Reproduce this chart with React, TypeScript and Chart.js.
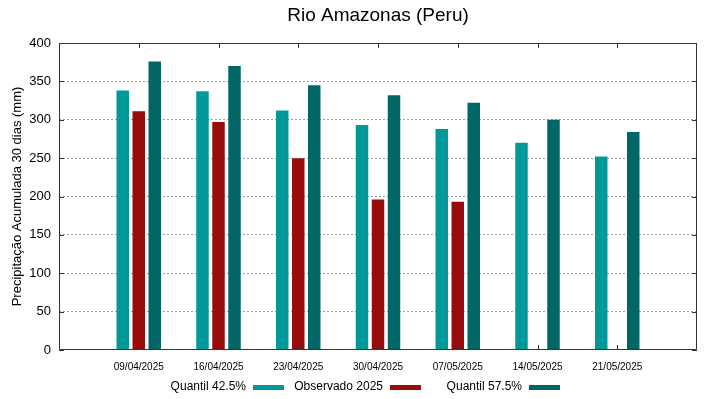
import { useEffect, useRef } from 'react';
import { Chart, registerables } from 'chart.js';

Chart.register(...registerables);

const chartTitle = 'Rio Amazonas (Peru)';
const yAxisTitle = 'Precipitação Acumulada 30 dias (mm)';
const dates = ['09/04/2025', '16/04/2025', '23/04/2025', '30/04/2025', '07/05/2025', '14/05/2025', '21/05/2025'];
const quantil425 = [338, 337, 312, 293, 288, 270, 252];
const observado2025: (number | null)[] = [311, 297, 250, 196, 193, null, null];
const quantil575 = [376, 370, 345, 332, 322, 300, 284];
const seriesNames = ['Quantil 42.5%', 'Observado 2025', 'Quantil 57.5%'];
const seriesColors = ['#009999', '#990c0c', '#006666'];
const yMin = 0;
const yMax = 400;
const yStep = 50;

const FONT = '"Liberation Sans", Arial, sans-serif';

const framePlugin = {
  id: 'gnuFrame',
  afterDraw(chart: any) {
    const { ctx, chartArea } = chart;
    const { left, right, top, bottom } = chartArea;
    const xs = chart.scales.x;
    const ys = chart.scales.y;
    ctx.save();
    ctx.strokeStyle = '#333333';
    ctx.lineWidth = 1;
    ctx.setLineDash([]);
    ctx.beginPath();
    ctx.rect(left + 0.5, top + 0.5, right - left - 1, bottom - top - 1);
    ctx.stroke();
    // y ticks inside, both sides
    ctx.beginPath();
    for (let v = yMin; v <= yMax; v += yStep) {
      const py = Math.round(ys.getPixelForValue(v)) + 0.5;
      ctx.moveTo(left, py);
      ctx.lineTo(left + 5, py);
      ctx.moveTo(right, py);
      ctx.lineTo(right - 5, py);
    }
    // x ticks inside, top and bottom
    for (let i = 1; i <= dates.length; i++) {
      const px = Math.round(xs.getPixelForValue(i)) + 0.5;
      ctx.moveTo(px, bottom);
      ctx.lineTo(px, bottom - 5);
      ctx.moveTo(px, top);
      ctx.lineTo(px, top + 5);
    }
    ctx.stroke();

    // title
    ctx.fillStyle = '#000';
    ctx.font = `19px ${FONT}`;
    ctx.textAlign = 'center';
    ctx.textBaseline = 'middle';
    ctx.fillText(chartTitle, (left + right) / 2, 16);

    // legend (gnuplot style: text then sample)
    const textEnds = [246, 383, 522];
    ctx.font = `12px ${FONT}`;
    ctx.textAlign = 'right';
    for (let i = 0; i < seriesNames.length; i++) {
      ctx.fillStyle = '#000';
      ctx.fillText(seriesNames[i], textEnds[i], 387);
      ctx.fillStyle = seriesColors[i];
      ctx.fillRect(textEnds[i] + 7, 385, 31, 5);
    }
    ctx.restore();
  },
};

export default function App() {
  const ref = useRef<HTMLCanvasElement | null>(null);
  useEffect(() => {
    document.body.style.margin = '0';
    if (!ref.current) return;
    const labels = ['', ...dates, ''];
    const pad = (arr: (number | null)[]) => [null, ...arr, null];
    const chart = new Chart(ref.current, {
      type: 'bar',
      data: {
        labels,
        datasets: [
          { label: seriesNames[0], data: pad(quantil425), backgroundColor: seriesColors[0] },
          { label: seriesNames[1], data: pad(observado2025), backgroundColor: seriesColors[1] },
          { label: seriesNames[2], data: pad(quantil575), backgroundColor: seriesColors[2] },
        ],
      },
      options: {
        responsive: false,
        animation: false,
        maintainAspectRatio: false,
        layout: { padding: { top: 43, right: 22, left: 0, bottom: 0 } },
        datasets: { bar: { categoryPercentage: 0.602, barPercentage: 0.78 } },
        plugins: {
          legend: { display: false },
          title: { display: false },
          tooltip: { enabled: false },
        },
        scales: {
          x: {
            type: 'category',
            offset: false,
            grid: { display: false, drawTicks: false },
            border: { display: false },
            ticks: {
              autoSkip: false,
              maxRotation: 0,
              padding: 11,
              color: '#000',
              font: { family: FONT, size: 10 },
            },
            afterFit: (s: any) => { s.height = 49; },
          },
          y: {
            min: yMin,
            max: yMax,
            ticks: {
              stepSize: yStep,
              padding: 8,
              color: '#000',
              font: { family: FONT, size: 13 },
            },
            grid: {
              drawTicks: false,
              color: (c: any) => (c.tick && (c.tick.value === yMin || c.tick.value === yMax) ? 'rgba(0,0,0,0)' : '#a0a0a0'),
            },
            border: { display: false, dash: [2, 2] },
            title: {
              display: true,
              text: yAxisTitle,
              color: '#000',
              padding: 10,
              font: { family: FONT, size: 13 },
            },
            afterFit: (s: any) => { s.width = 59; },
          },
        },
      },
      plugins: [framePlugin],
    });
    return () => chart.destroy();
  }, []);
  return <canvas ref={ref} width={719} height={399} style={{ display: 'block' }} />;
}
